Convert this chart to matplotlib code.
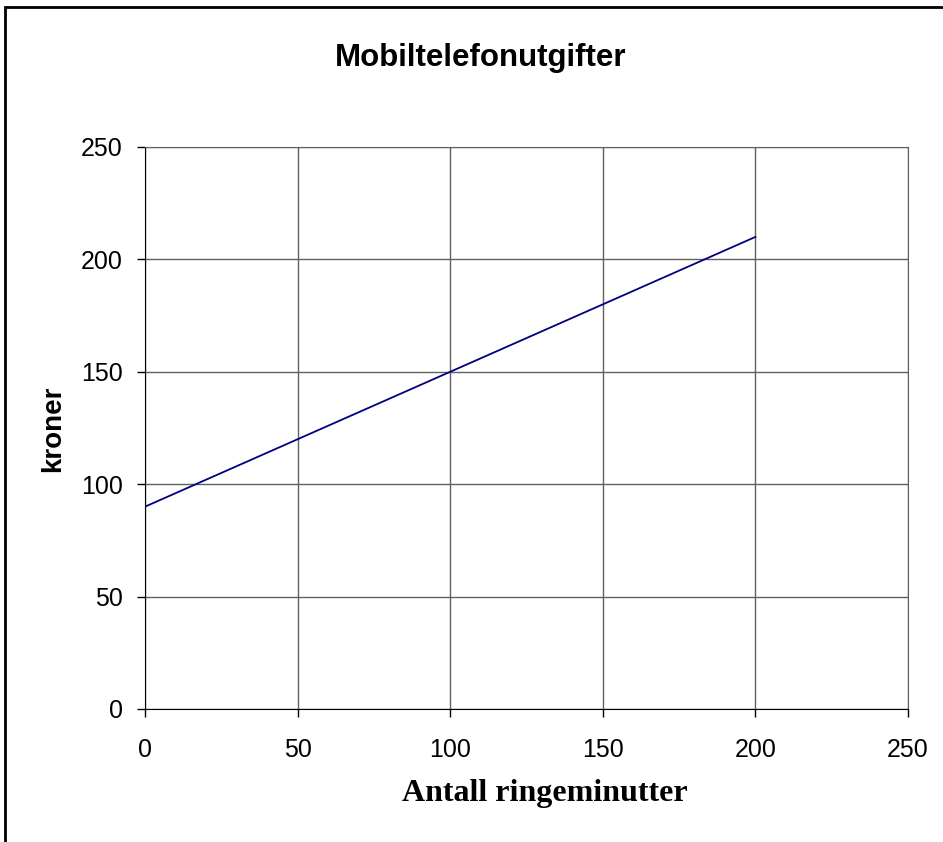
import matplotlib.pyplot as plt
import matplotlib.patches as patches

# Data
minutter = [0, 10, 20, 30, 40, 50, 60, 70, 80, 90, 100,
            110, 120, 130, 140, 150, 160, 170, 180, 190, 200]
kroner = [90, 96, 102, 108, 114, 120, 126, 132, 138, 144, 150,
          156, 162, 168, 174, 180, 186, 192, 198, 204, 210]
x_ticks = [0, 50, 100, 150, 200, 250]
y_ticks = [0, 50, 100, 150, 200, 250]

fig = plt.figure(figsize=(9.43, 8.42), dpi=100)
ax = fig.add_axes([145 / 943, 1 - 709 / 842, (908 - 145) / 943, (709 - 147) / 842])

ax.plot(minutter, kroner, color='#000080', linewidth=1.3)

ax.set_xlim(0, 250)
ax.set_ylim(0, 250)
ax.set_xticks(x_ticks)
ax.set_yticks(y_ticks)
ax.grid(True, color='#606060', linewidth=1)
ax.set_axisbelow(True)

for side in ['top', 'right']:
    ax.spines[side].set_color('#606060')
for side in ['left', 'bottom']:
    ax.spines[side].set_color('black')

ax.tick_params(direction='out', length=6, width=1, color='black', labelsize=18)
ax.tick_params(axis='x', pad=15)
ax.tick_params(axis='y', pad=10)
for lbl in ax.get_xticklabels() + ax.get_yticklabels():
    lbl.set_fontfamily('Liberation Sans')

# axis titles and chart title placed like in the original
fig.text(545 / 943, 1 - 793 / 842, 'Antall ringeminutter', ha='center', va='center',
         fontfamily='Liberation Serif', fontweight='bold', fontsize=23)
fig.text(53 / 943, 1 - 429 / 842, 'kroner', ha='center', va='center', rotation=90,
         fontfamily='Liberation Sans', fontweight='bold', fontsize=20)
fig.text(481 / 943, 1 - 58 / 842, 'Mobiltelefonutgifter', ha='center', va='center',
         fontfamily='Liberation Sans', fontweight='bold', fontsize=22.5)

# outer frame around the chart
frame = patches.Rectangle((5 / 943, -0.05), 1.05, 1 - 7 / 842 + 0.05,
                          transform=fig.transFigure, fill=False,
                          edgecolor='black', linewidth=2)
fig.patches.append(frame)

fig.savefig('out.png', dpi=100)
